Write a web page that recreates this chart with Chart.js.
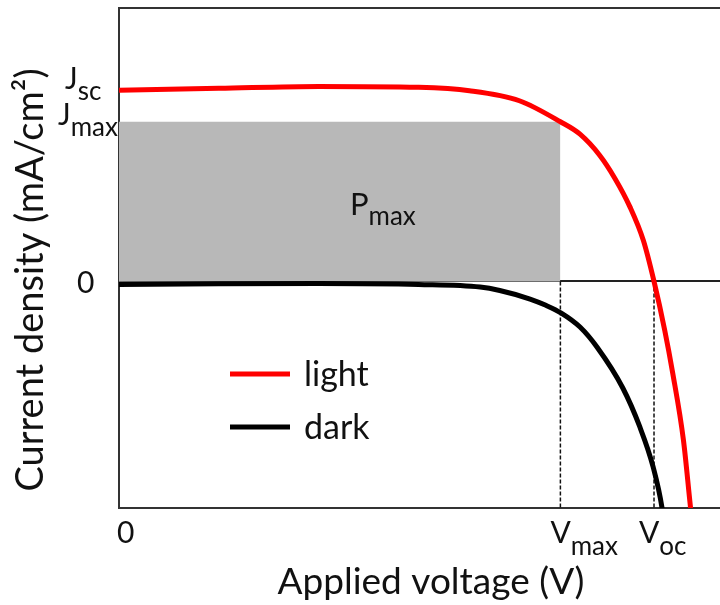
<!DOCTYPE html>
<html>
<head>
<meta charset="utf-8">
<script src="https://cdn.jsdelivr.net/npm/chart.js@4.4.0/dist/chart.umd.min.js"></script>
<style>
  html, body { margin: 0; padding: 0; background: #fff; }
  #wrap { width: 720px; height: 605px; }
</style>
</head>
<body>
<div id="wrap"><canvas id="jvChart"></canvas></div>
<script>
// J-V curves of a solar cell, under light and in the dark
// voltage in V, current density in mA/cm2
var lightV = [0, 0.112, 0.224, 0.336, 0.393, 0.449, 0.495, 0.517, 0.539, 0.556, 0.573, 0.588, 0.600, 0.612, 0.621, 0.633, 0.641, 0.645]
var lightJ = [20.0, 20.2, 20.4, 20.3, 19.95, 18.9, 16.7, 15.4, 13.2, 10.8, 7.8, 4.3, 0, -5.1, -9.6, -16.6, -23.7, -27]

var darkV = [0, 0.112, 0.224, 0.336, 0.405, 0.427, 0.461, 0.478, 0.496, 0.517, 0.536, 0.565, 0.584, 0.599, 0.609, 0.612]
var darkJ = [-0.32, -0.25, -0.22, -0.32, -0.59, -0.95, -1.84, -2.47, -3.31, -4.77, -6.86, -11.15, -15.2, -19.4, -23.7, -26]

// characteristic points
var Jsc = 20.0
var Jmax = 16.7
var Vmax = 0.495
var Voc = 0.600

var voltRange = [0, 0.674]
var currRange = [-23.7, 28.6]

// tick labels as [main, subscript]
var xTickValues = [0, Vmax, Voc]
var xTickLabels = [['0', ''], ['V', 'max'], ['V', 'oc']]
var yTickValues = [Jsc, Jmax, 0]
var yTickLabels = [['J', 'sc'], ['J', 'max'], ['0', '']]

var seriesNames = ['light', 'dark']

function toPoints(xs, ys) {
  return xs.map(function (x, i) { return { x: x, y: ys[i] } })
}

var FONT = 'Lato, "Open Sans", sans-serif'

// text with a subscript, returns total width
function subText(ctx, main, sub, x, y, size, subSize, drop) {
  ctx.font = size + 'px ' + FONT
  ctx.fillText(main, x, y)
  var w = ctx.measureText(main).width
  if (sub) {
    ctx.font = subSize + 'px ' + FONT
    ctx.fillText(sub, x + w, y + drop)
    w += ctx.measureText(sub).width
  }
  return w
}

var labelsPlugin = {
  id: 'jvLabels',
  afterDraw: function (chart) {
    var ctx = chart.ctx
    var xs = chart.scales.x
    var ys = chart.scales.y
    var area = chart.chartArea
    ctx.save()
    ctx.fillStyle = '#111'
    ctx.textBaseline = 'alphabetic'
    ctx.textAlign = 'left'

    // y tick labels
    var yOff = [[65, -1], [58, 3], [77, 12]]
    yTickValues.forEach(function (v, i) {
      var py = ys.getPixelForValue(v)
      subText(ctx, yTickLabels[i][0], yTickLabels[i][1], yOff[i][0], py + yOff[i][1], 30, 26, 11)
    })

    // x tick labels
    var xOff = [-2, -10, -15]
    xTickValues.forEach(function (v, i) {
      var px = xs.getPixelForValue(v)
      subText(ctx, xTickLabels[i][0], xTickLabels[i][1], px + xOff[i], area.bottom + 35, 30, 26, 12)
    })

    // power rectangle label
    subText(ctx, 'P', 'max', xs.getPixelForValue(0.259), ys.getPixelForValue(Jmax * 0.416), 31, 26, 10)

    // legend inside the plot
    var legendRows = [374, 427]
    chart.data.datasets.forEach(function (ds) {
      var idx = seriesNames.indexOf(ds.label)
      if (idx < 0) return
      var ly = legendRows[idx]
      ctx.strokeStyle = ds.borderColor
      ctx.lineWidth = ds.borderWidth
      ctx.beginPath()
      ctx.moveTo(230, ly)
      ctx.lineTo(290, ly)
      ctx.stroke()
      ctx.font = '34px ' + FONT
      ctx.fillText(ds.label, 304, ly + 12)
    })

    // axis titles
    ctx.font = '37px ' + FONT
    ctx.textAlign = 'center'
    ctx.fillText('Applied voltage (V)', 431, 594)
    ctx.font = '38px ' + FONT
    ctx.translate(43, 280)
    ctx.rotate(-Math.PI / 2)
    ctx.fillText('Current density (mA/cm\u00B2)', 0, 0)
    ctx.restore()
  }
}

var guideStyle = {
  borderColor: '#111',
  borderWidth: 1.5,
  borderDash: [4, 2],
  pointRadius: 0,
  fill: false,
  order: 4,
  clip: 0
}

new Chart(document.getElementById('jvChart'), {
  type: 'line',
  data: {
    datasets: [
      {
        label: 'light',
        data: toPoints(lightV, lightJ),
        borderColor: '#ff0000',
        borderWidth: 5,
        pointRadius: 0,
        cubicInterpolationMode: 'monotone',
        fill: false,
        order: 1,
        clip: 0
      },
      {
        label: 'dark',
        data: toPoints(darkV, darkJ),
        borderColor: '#000000',
        borderWidth: 5,
        pointRadius: 0,
        cubicInterpolationMode: 'monotone',
        fill: false,
        order: 2,
        clip: 0
      },
      Object.assign({ label: 'Vmax guide', data: [{ x: Vmax, y: 0 }, { x: Vmax, y: currRange[0] }] }, guideStyle),
      Object.assign({ label: 'Voc guide', data: [{ x: Voc, y: 0 }, { x: Voc, y: currRange[0] }] }, guideStyle),
      {
        label: 'Pmax',
        data: [{ x: 0, y: Jmax }, { x: Vmax, y: Jmax }],
        borderWidth: 0,
        backgroundColor: '#b8b8b8',
        pointRadius: 0,
        fill: 'origin',
        order: 5
      }
    ]
  },
  options: {
    responsive: true,
    maintainAspectRatio: false,
    animation: false,
    layout: { padding: { top: 8, left: 0, right: 0, bottom: 0 } },
    plugins: {
      legend: { display: false },
      tooltip: { enabled: false }
    },
    scales: {
      x: {
        type: 'linear',
        min: voltRange[0],
        max: voltRange[1],
        ticks: { display: false },
        grid: { display: false },
        border: { display: true, color: '#333', width: 2 },
        afterFit: function (scale) { scale.height = 97 }
      },
      y: {
        min: currRange[0],
        max: currRange[1],
        ticks: { display: false },
        afterBuildTicks: function (scale) {
          scale.ticks = [{ value: 0 }, { value: currRange[1] }]
        },
        grid: {
          drawTicks: false,
          color: function (c) { return c.tick && c.tick.value === 0 ? '#222' : '#333' },
          lineWidth: 2
        },
        border: { display: true, color: '#333', width: 2 },
        afterFit: function (scale) { scale.width = 119 }
      }
    }
  },
  plugins: [labelsPlugin]
})
</script>
</body>
</html>
